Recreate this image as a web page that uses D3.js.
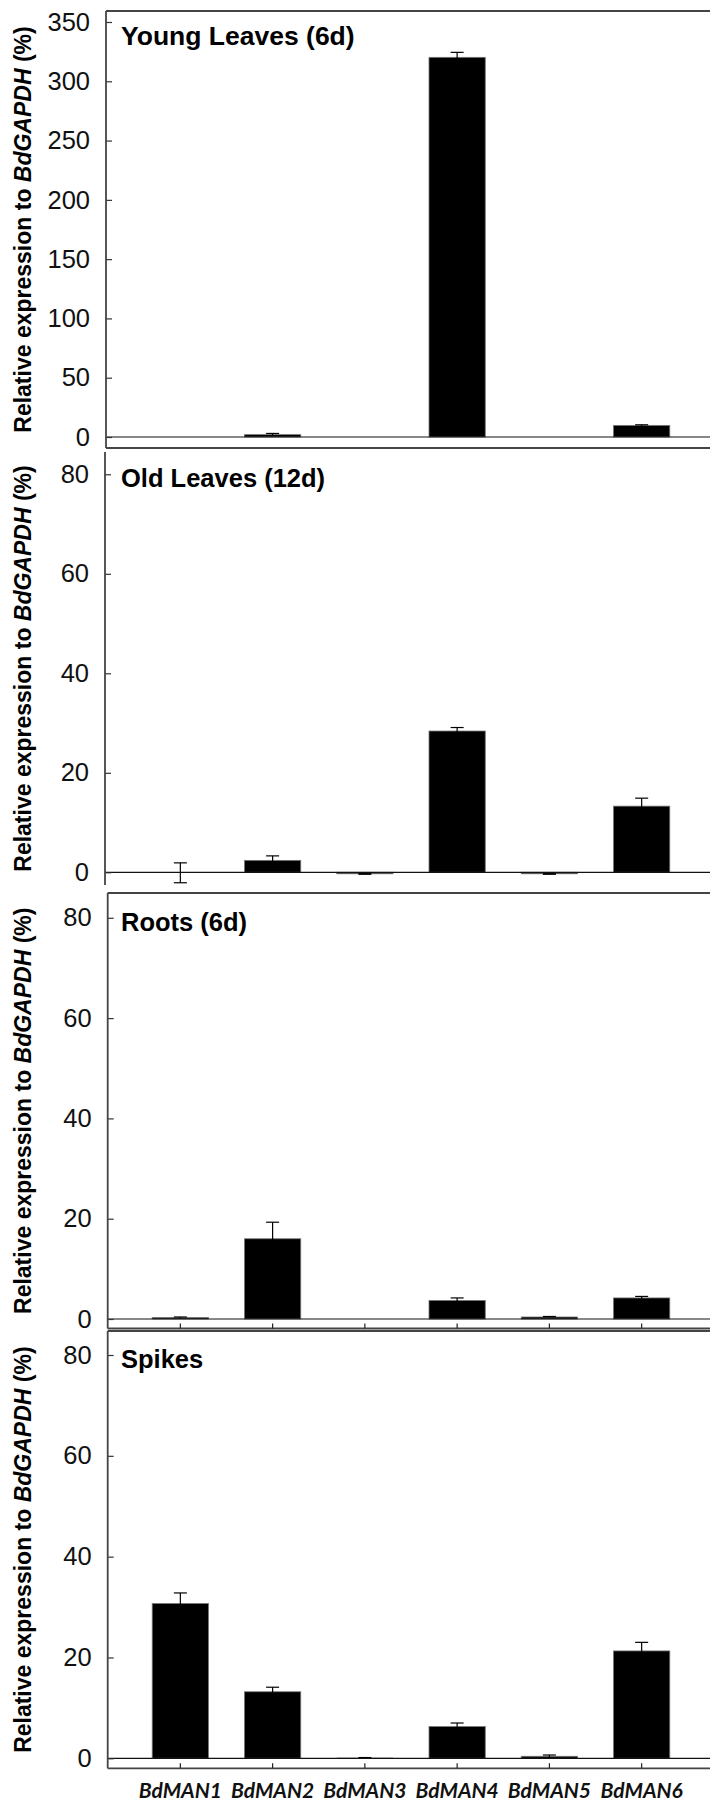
<!DOCTYPE html>
<html lang="en">
<head>
  <meta charset="UTF-8">
  <title>BdMAN relative expression</title>
  <script src="https://d3js.org/d3.v7.min.js"></script>
  <style>
    body { margin: 0; background: #fff; }
    svg { display: block; }
  </style>
</head>
<body>
  <svg id="chart" width="710" height="1802"></svg>

  <script>
    // data
    const categories = ['BdMAN1', 'BdMAN2', 'BdMAN3', 'BdMAN4', 'BdMAN5', 'BdMAN6'];
    const panelTitles = ['Young Leaves (6d)', 'Old Leaves (12d)', 'Roots (6d)', 'Spikes'];
    const youngMean = [0, 2.0, 0, 320.2, 0, 9.8];
    const youngErr = [0, 1.0, 0, 4.2, 0, 0.5];
    const oldMean = [-0.1, 2.4, -0.3, 28.4, -0.3, 13.3];
    const oldErr = [2.0, 0.9, 0.1, 0.7, 0.1, 1.6];
    const rootsMean = [0.3, 16.0, 0, 3.7, 0.4, 4.2];
    const rootsErr = [0.1, 3.3, 0, 0.5, 0.1, 0.3];
    const spikesMean = [30.7, 13.2, 0.1, 6.3, 0.4, 21.3];
    const spikesErr = [2.1, 0.9, 0.05, 0.7, 0.25, 1.7];
    const youngTicks = [0, 50, 100, 150, 200, 250, 300, 350];
    const lowTicks = [0, 20, 40, 60, 80];

    // panel layout (pixels)
    const panels = [
      { title: panelTitles[0], mean: youngMean, err: youngErr, ticks: youngTicks, max: 350,
        left: 106, top: 11, bottom: 448, y0: 437, yMax: 22, topLine: true, bottomLine: true, xTicks: false },
      { title: panelTitles[1], mean: oldMean, err: oldErr, ticks: lowTicks, max: 80,
        left: 105, top: 452, bottom: 885, y0: 872.3, yMax: 474.3, topLine: false, bottomLine: false, xTicks: false },
      { title: panelTitles[2], mean: rootsMean, err: rootsErr, ticks: lowTicks, max: 80,
        left: 107.7, top: 893, bottom: 1328.5, y0: 1319, yMax: 917.8, topLine: true, bottomLine: true, xTicks: true },
      { title: panelTitles[3], mean: spikesMean, err: spikesErr, ticks: lowTicks, max: 80,
        left: 107.7, top: 1331, bottom: 1768.3, y0: 1758.3, yMax: 1355, topLine: true, bottomLine: true, xTicks: true, labels: true }
    ];

    const svg = d3.select('#chart');
    const rightEdge = 712;

    const x = d3.scaleBand()
      .domain(categories)
      .range([107, 715])
      .paddingInner(0.39)
      .paddingOuter(0.49);

    panels.forEach((p, pi) => {
      const g = svg.append('g').attr('class', 'panel-' + pi);
      const y = d3.scaleLinear().domain([0, p.max]).range([p.y0, p.yMax]);

      // frame lines
      if (p.topLine) {
        g.append('line')
          .attr('x1', p.left).attr('x2', rightEdge)
          .attr('y1', p.top).attr('y2', p.top)
          .attr('stroke', '#444').attr('stroke-width', 1.8);
      }
      if (p.bottomLine) {
        g.append('line')
          .attr('x1', p.left).attr('x2', rightEdge)
          .attr('y1', p.bottom).attr('y2', p.bottom)
          .attr('stroke', '#444').attr('stroke-width', 1.8);
      }

      // bars
      g.selectAll('rect.bar')
        .data(categories.map((c, i) => ({ c, v: p.mean[i], e: p.err[i] })))
        .enter().append('rect')
        .attr('class', 'bar')
        .attr('x', d => x(d.c))
        .attr('width', x.bandwidth())
        .attr('y', d => Math.min(y(d.v), y(0)))
        .attr('height', d => Math.abs(y(d.v) - y(0)))
        .attr('fill', '#000')
        .attr('stroke', '#777')
        .attr('stroke-width', d => Math.abs(y(d.v) - y(0)) > 1 ? 0.8 : 0);

      // error bars
      const errData = categories.map((c, i) => ({ c, v: p.mean[i], e: p.err[i] })).filter(d => d.e > 0);
      const eb = g.selectAll('g.err').data(errData).enter().append('g').attr('class', 'err')
        .attr('stroke', '#000').attr('stroke-width', 1.2);
      eb.append('line')
        .attr('x1', d => x(d.c) + x.bandwidth() / 2).attr('x2', d => x(d.c) + x.bandwidth() / 2)
        .attr('y1', d => y(d.v - d.e)).attr('y2', d => y(d.v + d.e));
      eb.append('line')
        .attr('x1', d => x(d.c) + x.bandwidth() / 2 - 6.5).attr('x2', d => x(d.c) + x.bandwidth() / 2 + 6.5)
        .attr('y1', d => y(d.v + d.e)).attr('y2', d => y(d.v + d.e));
      eb.filter(d => d.v - d.e < 0 && d.v < 0.5)
        .append('line')
        .attr('x1', d => x(d.c) + x.bandwidth() / 2 - 6.5).attr('x2', d => x(d.c) + x.bandwidth() / 2 + 6.5)
        .attr('y1', d => y(d.v - d.e)).attr('y2', d => y(d.v - d.e));

      // zero line
      g.append('line')
        .attr('x1', p.left).attr('x2', rightEdge)
        .attr('y1', y(0)).attr('y2', y(0))
        .attr('stroke', '#111').attr('stroke-width', 1.2);

      // y axis
      const yAxis = g.append('g')
        .attr('transform', `translate(${p.left},0)`)
        .call(d3.axisLeft(y).tickValues(p.ticks).tickSize(-6).tickPadding(16).tickFormat(d3.format('d')));
      yAxis.select('.domain').remove();
      yAxis.selectAll('.tick line').attr('stroke', '#333').attr('stroke-width', 1.2);
      yAxis.selectAll('.tick text')
        .attr('fill', '#111')
        .style('font-family', '"Liberation Sans", Arial, sans-serif')
        .style('font-size', '25.5px');

      g.append('line')
        .attr('x1', p.left).attr('x2', p.left)
        .attr('y1', p.top).attr('y2', p.bottom)
        .attr('stroke', '#444').attr('stroke-width', 1.8);

      // category ticks
      if (p.xTicks) {
        const xAxis = g.append('g')
          .attr('transform', `translate(0,${p.bottom})`)
          .call(d3.axisBottom(x).tickSize(-5).tickPadding(20));
        xAxis.select('.domain').remove();
        xAxis.selectAll('.tick line').attr('stroke', '#222').attr('stroke-width', 1.2);
        if (p.labels) {
          xAxis.selectAll('.tick text')
            .attr('y', 30)
            .attr('dy', 0)
            .attr('fill', '#111')
            .style('font-family', 'Lato, "Open Sans", sans-serif')
            .style('font-weight', 'bold')
            .style('font-style', 'italic')
            .style('font-size', '21px');
        } else {
          xAxis.selectAll('.tick text').remove();
        }
      }

      // panel title
      g.append('text')
        .attr('x', 121)
        .attr('y', pi === 0 ? 45 : y(80) + 13)
        .attr('fill', '#000')
        .style('font-family', '"Liberation Sans", Arial, sans-serif')
        .style('font-weight', 'bold')
        .style('font-size', pi === 0 ? '26.5px' : '25.5px')
        .text(p.title);

      // y axis title
      const yt = g.append('text')
        .attr('transform', `translate(31,${(p.top + p.bottom) / 2}) rotate(-90)`)
        .attr('text-anchor', 'middle')
        .attr('fill', '#000')
        .style('font-family', '"Liberation Sans", Arial, sans-serif')
        .style('font-weight', 'bold')
        .style('font-size', '23px');
      yt.append('tspan').text('Relative expression to ');
      yt.append('tspan').style('font-style', 'italic').text('BdGAPDH');
      yt.append('tspan').text(' (%)');
    });
  </script>
</body>
</html>
